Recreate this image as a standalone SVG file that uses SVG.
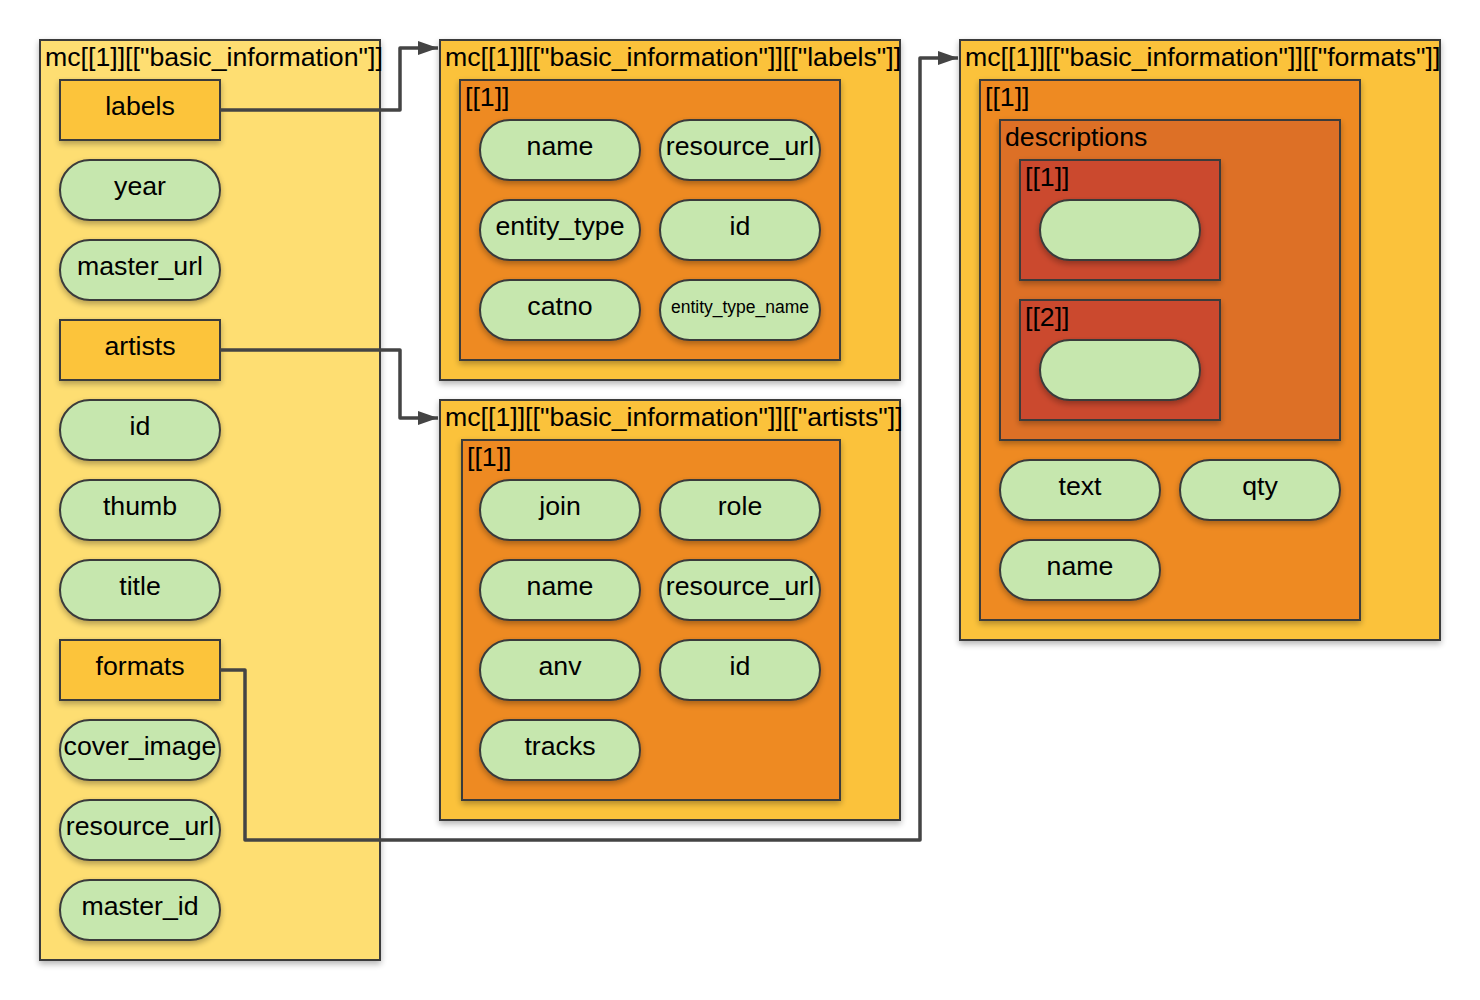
<svg xmlns="http://www.w3.org/2000/svg" width="1480" height="1000" viewBox="0 0 1480 1000">
<style>
text{font-family:"Liberation Sans",Arial,sans-serif;font-size:26.7px;fill:#000}
.c{text-anchor:middle}
.box{stroke:#3a3a3a;stroke-width:2}
.main{fill:#FEDE72}
.outer{fill:#FBC23A}
.key{fill:#FCC43B}
.inner{fill:#EE8A22}
.desc{fill:#DD6F27}
.red{fill:#CB4A2E}
.pill{fill:#C6E7AE;stroke:#3a3a3a;stroke-width:2}
.wire{fill:none;stroke:#444;stroke-width:3.5;stroke-linejoin:round}
</style>
<defs>
<filter id="sh" x="-10%" y="-10%" width="130%" height="130%">
<feGaussianBlur in="SourceAlpha" stdDeviation="3"/>
<feOffset dx="0" dy="3"/>
<feComponentTransfer><feFuncA type="linear" slope="0.3"/></feComponentTransfer>
<feMerge><feMergeNode/><feMergeNode in="SourceGraphic"/></feMerge>
</filter>
<marker id="arr" viewBox="0 0 20 14" refX="20" refY="7" markerWidth="20" markerHeight="14" markerUnits="userSpaceOnUse" orient="auto">
<path d="M0,0 L20,7 L0,14 Z" fill="#444"/>
</marker>
</defs>

<g id="main">
<rect class="box main" x="40" y="40" width="340" height="920" filter="url(#sh)"/>
<text x="45" y="66">mc[[1]][["basic_information"]]</text>
</g>
<g id="main-labels"><rect class="box key" x="60" y="80" width="160" height="60" filter="url(#sh)"/><text class="c" x="140" y="115">labels</text></g>
<g id="main-year"><rect class="pill" x="60" y="160" width="160" height="60" rx="30" filter="url(#sh)"/><text class="c" x="140" y="195">year</text></g>
<g id="main-master_url"><rect class="pill" x="60" y="240" width="160" height="60" rx="30" filter="url(#sh)"/><text class="c" x="140" y="275">master_url</text></g>
<g id="main-artists"><rect class="box key" x="60" y="320" width="160" height="60" filter="url(#sh)"/><text class="c" x="140" y="355">artists</text></g>
<g id="main-id"><rect class="pill" x="60" y="400" width="160" height="60" rx="30" filter="url(#sh)"/><text class="c" x="140" y="435">id</text></g>
<g id="main-thumb"><rect class="pill" x="60" y="480" width="160" height="60" rx="30" filter="url(#sh)"/><text class="c" x="140" y="515">thumb</text></g>
<g id="main-title"><rect class="pill" x="60" y="560" width="160" height="60" rx="30" filter="url(#sh)"/><text class="c" x="140" y="595">title</text></g>
<g id="main-formats"><rect class="box key" x="60" y="640" width="160" height="60" filter="url(#sh)"/><text class="c" x="140" y="675">formats</text></g>
<g id="main-cover_image"><rect class="pill" x="60" y="720" width="160" height="60" rx="30" filter="url(#sh)"/><text class="c" x="140" y="755">cover_image</text></g>
<g id="main-resource_url"><rect class="pill" x="60" y="800" width="160" height="60" rx="30" filter="url(#sh)"/><text class="c" x="140" y="835">resource_url</text></g>
<g id="main-master_id"><rect class="pill" x="60" y="880" width="160" height="60" rx="30" filter="url(#sh)"/><text class="c" x="140" y="915">master_id</text></g>

<g id="labels">
<rect class="box outer" x="440" y="40" width="460" height="340" filter="url(#sh)"/>
<text x="445" y="66">mc[[1]][["basic_information"]][["labels"]]</text>
<rect class="box inner" x="460" y="80" width="380" height="280" filter="url(#sh)"/>
<text x="465" y="106">[[1]]</text>
</g>
<g id="labels-name"><rect class="pill" x="480" y="120" width="160" height="60" rx="30" filter="url(#sh)"/><text class="c" x="560" y="155">name</text></g>
<g id="labels-resource_url"><rect class="pill" x="660" y="120" width="160" height="60" rx="30" filter="url(#sh)"/><text class="c" x="740" y="155">resource_url</text></g>
<g id="labels-entity_type"><rect class="pill" x="480" y="200" width="160" height="60" rx="30" filter="url(#sh)"/><text class="c" x="560" y="235">entity_type</text></g>
<g id="labels-id"><rect class="pill" x="660" y="200" width="160" height="60" rx="30" filter="url(#sh)"/><text class="c" x="740" y="235">id</text></g>
<g id="labels-catno"><rect class="pill" x="480" y="280" width="160" height="60" rx="30" filter="url(#sh)"/><text class="c" x="560" y="315">catno</text></g>
<g id="labels-entity_type_name"><rect class="pill" x="660" y="280" width="160" height="60" rx="30" filter="url(#sh)"/><text class="c" x="740" y="313" style="font-size:17.5px">entity_type_name</text></g>

<g id="artists">
<rect class="box outer" x="440" y="400" width="460" height="420" filter="url(#sh)"/>
<text x="445" y="426">mc[[1]][["basic_information"]][["artists"]]</text>
<rect class="box inner" x="462" y="440" width="378" height="360" filter="url(#sh)"/>
<text x="467" y="466">[[1]]</text>
</g>
<g id="artists-join"><rect class="pill" x="480" y="480" width="160" height="60" rx="30" filter="url(#sh)"/><text class="c" x="560" y="515">join</text></g>
<g id="artists-role"><rect class="pill" x="660" y="480" width="160" height="60" rx="30" filter="url(#sh)"/><text class="c" x="740" y="515">role</text></g>
<g id="artists-name"><rect class="pill" x="480" y="560" width="160" height="60" rx="30" filter="url(#sh)"/><text class="c" x="560" y="595">name</text></g>
<g id="artists-resource_url"><rect class="pill" x="660" y="560" width="160" height="60" rx="30" filter="url(#sh)"/><text class="c" x="740" y="595">resource_url</text></g>
<g id="artists-anv"><rect class="pill" x="480" y="640" width="160" height="60" rx="30" filter="url(#sh)"/><text class="c" x="560" y="675">anv</text></g>
<g id="artists-id"><rect class="pill" x="660" y="640" width="160" height="60" rx="30" filter="url(#sh)"/><text class="c" x="740" y="675">id</text></g>
<g id="artists-tracks"><rect class="pill" x="480" y="720" width="160" height="60" rx="30" filter="url(#sh)"/><text class="c" x="560" y="755">tracks</text></g>

<g id="formats">
<rect class="box outer" x="960" y="40" width="480" height="600" filter="url(#sh)"/>
<text x="965" y="66">mc[[1]][["basic_information"]][["formats"]]</text>
<rect class="box inner" x="980" y="80" width="380" height="540" filter="url(#sh)"/>
<text x="985" y="106">[[1]]</text>
<rect class="box desc" x="1000" y="120" width="340" height="320" filter="url(#sh)"/>
<text x="1005" y="146">descriptions</text>
<rect class="box red" x="1020" y="160" width="200" height="120" filter="url(#sh)"/>
<text x="1025" y="186">[[1]]</text>
<rect class="box red" x="1020" y="300" width="200" height="120" filter="url(#sh)"/>
<text x="1025" y="326">[[2]]</text>
</g>
<g id="formats-desc-1"><rect class="pill" x="1040" y="200" width="160" height="60" rx="30" filter="url(#sh)"/></g>
<g id="formats-desc-2"><rect class="pill" x="1040" y="340" width="160" height="60" rx="30" filter="url(#sh)"/></g>
<g id="formats-text"><rect class="pill" x="1000" y="460" width="160" height="60" rx="30" filter="url(#sh)"/><text class="c" x="1080" y="495">text</text></g>
<g id="formats-qty"><rect class="pill" x="1180" y="460" width="160" height="60" rx="30" filter="url(#sh)"/><text class="c" x="1260" y="495">qty</text></g>
<g id="formats-name"><rect class="pill" x="1000" y="540" width="160" height="60" rx="30" filter="url(#sh)"/><text class="c" x="1080" y="575">name</text></g>

<g id="connectors">
<path class="wire" d="M220,110 H400 V48 H438" marker-end="url(#arr)"/>
<path class="wire" d="M220,350 H400 V418 H438" marker-end="url(#arr)"/>
<path class="wire" d="M220,670 H245 V840 H920 V58 H958" marker-end="url(#arr)"/>
</g>
</svg>
